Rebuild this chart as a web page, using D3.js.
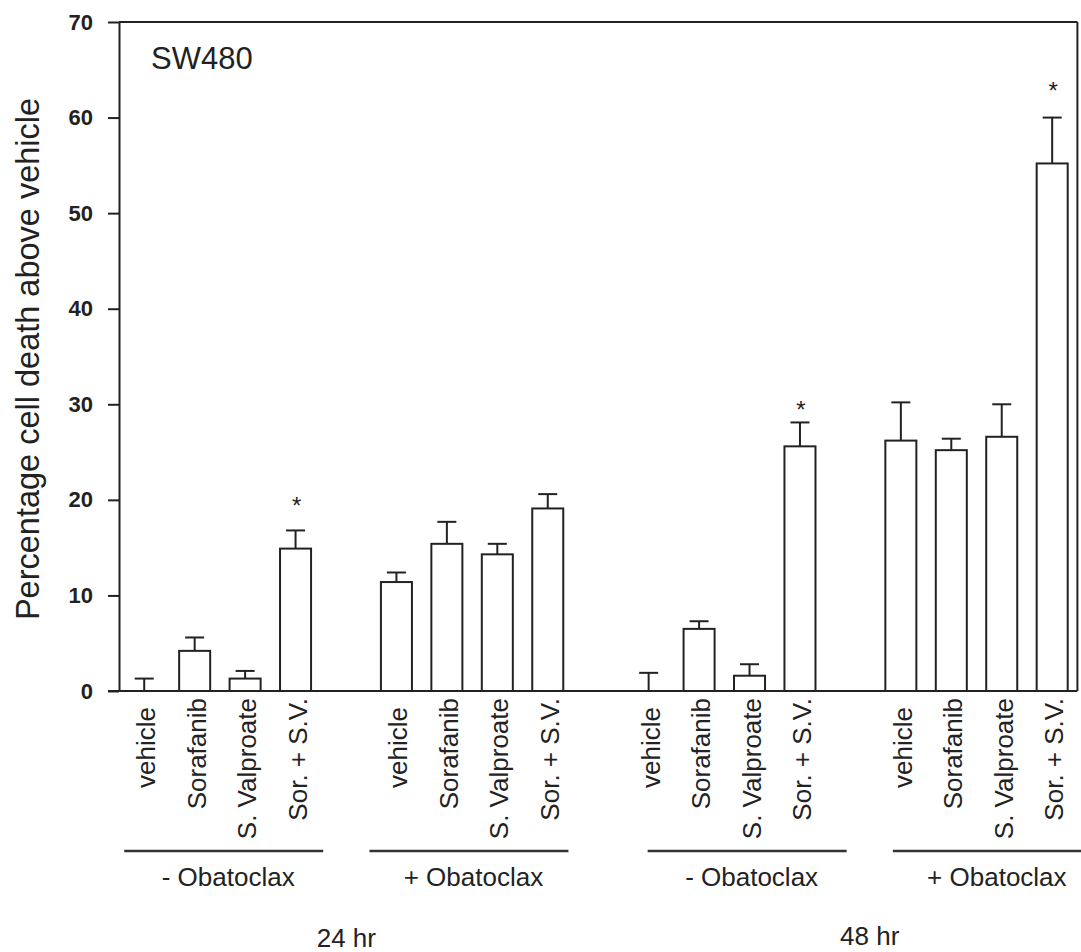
<!DOCTYPE html>
<html>
<head>
<meta charset="utf-8">
<script src="https://cdn.jsdelivr.net/npm/d3@7/dist/d3.min.js"></script>
<style>
  html, body { margin: 0; padding: 0; background: #fff; }
  svg { display: block; }
  text { font-family: "Liberation Sans", Arial, sans-serif; fill: #222; }
</style>
</head>
<body>
<svg id="chart" width="1081" height="952"></svg>
<script>
// ---- data -------------------------------------------------------------
const cellLine = "SW480";
const timepoints = ["24 hr", "48 hr"];
const obatoclaxArms = ["- Obatoclax", "+ Obatoclax"];
const treatments = ["vehicle", "Sorafanib", "S. Valproate", "Sor. + S.V."];

// mean % cell death above vehicle, one array per time point / Obatoclax arm
const mean24hNoObx = [0, 4.2, 1.3, 14.9];
const mean24hObx   = [11.4, 15.4, 14.3, 19.1];
const mean48hNoObx = [0, 6.5, 1.6, 25.6];
const mean48hObx   = [26.2, 25.2, 26.6, 55.2];

// upper error (SEM)
const err24hNoObx = [1.3, 1.4, 0.8, 1.9];
const err24hObx   = [1.0, 2.3, 1.1, 1.5];
const err48hNoObx = [1.9, 0.8, 1.2, 2.5];
const err48hObx   = [4.0, 1.2, 3.4, 4.8];

// significance asterisks: [group index, treatment index, height in % units]
const asterisks = [[0, 3, 20.0], [2, 3, 30.0], [3, 3, 63.4]];

const yTicks = [0, 10, 20, 30, 40, 50, 60, 70];
const yLabel = "Percentage cell death above vehicle";

// ---- assemble groups (time point x Obatoclax arm) ----------------------
const groupMeans = [mean24hNoObx, mean24hObx, mean48hNoObx, mean48hObx];
const groupErrs  = [err24hNoObx, err24hObx, err48hNoObx, err48hObx];
const groups = groupMeans.map((m, g) => ({
  time: Math.floor(g / 2),
  arm: obatoclaxArms[g % 2],
  bars: treatments.map((t, i) => ({ g, i, label: t, mean: m[i], err: groupErrs[g][i], slot: g * 5 + i }))
}));
const bars = groups.flatMap(d => d.bars);
const nSlots = groups.length * 5 - 1;

// ---- layout -----------------------------------------------------------
const svg = d3.select("#chart");
const plotLeft = 119, plotRight = 1077.4, plotTop = 22, plotBottom = 691;
const ink = "#222";

const x = d3.scaleBand()
  .domain(d3.range(nSlots))
  .range([plotLeft, plotRight])
  .paddingInner(0.385)
  .paddingOuter(0.1925);
const cx = s => x(s) + x.bandwidth() / 2;

const y = d3.scaleLinear().domain([0, 70]).range([plotBottom, plotTop]);

// ---- frame & axis -----------------------------------------------------
const yAxis = d3.axisLeft(y)
  .tickValues(yTicks)
  .tickSize(11)
  .tickSizeOuter(0)
  .tickPadding(15);

const gy = svg.append("g")
  .attr("transform", `translate(${plotLeft},0)`)
  .call(yAxis);
gy.selectAll("path, line").attr("stroke", ink).attr("stroke-width", 2);
gy.selectAll("text")
  .attr("font-size", 22)
  .attr("font-weight", "bold")
  .attr("font-family", "'Liberation Sans', Arial, sans-serif")
  .attr("fill", ink);

// top, right and baseline rules
svg.append("line").attr("x1", plotLeft).attr("x2", plotRight).attr("y1", y(70)).attr("y2", y(70))
  .attr("stroke", ink).attr("stroke-width", 2);
svg.append("line").attr("x1", plotRight).attr("x2", plotRight).attr("y1", y(70)).attr("y2", y(0))
  .attr("stroke", ink).attr("stroke-width", 2);
svg.append("line").attr("x1", plotLeft - 11).attr("x2", plotRight).attr("y1", y(0)).attr("y2", y(0))
  .attr("stroke", ink).attr("stroke-width", 2);

// ---- bars -------------------------------------------------------------
svg.append("g").selectAll("rect")
  .data(bars.filter(d => d.mean > 0))
  .join("rect")
  .attr("x", d => x(d.slot))
  .attr("width", x.bandwidth())
  .attr("y", d => y(d.mean))
  .attr("height", d => y(0) - y(d.mean))
  .attr("fill", "#fff")
  .attr("stroke", ink)
  .attr("stroke-width", 2);

// error bars
const capHalf = 9.5;
const eb = svg.append("g").attr("stroke", ink).attr("stroke-width", 2);
eb.selectAll("line.stem")
  .data(bars)
  .join("line")
  .attr("class", "stem")
  .attr("x1", d => cx(d.slot)).attr("x2", d => cx(d.slot))
  .attr("y1", d => y(d.mean)).attr("y2", d => y(d.mean + d.err));
eb.selectAll("line.cap")
  .data(bars)
  .join("line")
  .attr("class", "cap")
  .attr("x1", d => cx(d.slot) - capHalf).attr("x2", d => cx(d.slot) + capHalf)
  .attr("y1", d => y(d.mean + d.err)).attr("y2", d => y(d.mean + d.err));

// asterisks
svg.append("g").selectAll("text")
  .data(asterisks)
  .join("text")
  .attr("x", d => cx(d[0] * 5 + d[1]) + 1)
  .attr("y", d => y(d[2]) + 14)
  .attr("text-anchor", "middle")
  .attr("font-size", 24)
  .text("*");

// ---- category labels (rotated) -----------------------------------------
svg.append("g").selectAll("text")
  .data(bars)
  .join("text")
  .attr("transform", d => `translate(${cx(d.slot) + 11},${d.i === 0 ? 707 : 698}) rotate(-90)`)
  .attr("text-anchor", "end")
  .attr("font-size", 26)
  .text(d => d.label);

// ---- group brackets & labels -------------------------------------------
const bracketShift = [-20, -27, -1, -8];
const bracketLen = 199;
const bracketY = 851;
const bracketStart = g => cx(g * 5) + bracketShift[g];

svg.append("g").selectAll("line")
  .data(groups)
  .join("line")
  .attr("x1", (d, g) => bracketStart(g))
  .attr("x2", (d, g) => bracketStart(g) + bracketLen)
  .attr("y1", bracketY).attr("y2", bracketY)
  .attr("stroke", "#333")
  .attr("stroke-width", 2.6);

svg.append("g").selectAll("text")
  .data(groups)
  .join("text")
  .attr("x", (d, g) => bracketStart(g) + bracketLen / 2 + 4.5)
  .attr("y", 886)
  .attr("text-anchor", "middle")
  .attr("font-size", 26)
  .text(d => d.arm);

// time point labels, centred under each pair of brackets
svg.append("g").selectAll("text")
  .data(timepoints)
  .join("text")
  .attr("x", (d, t) => (bracketStart(t * 2) + bracketStart(t * 2 + 1) + bracketLen) / 2)
  .attr("y", (d, t) => 947 - t * 2)
  .attr("text-anchor", "middle")
  .attr("font-size", 26)
  .text(d => d);

// ---- titles ------------------------------------------------------------
svg.append("text")
  .attr("x", 151)
  .attr("y", 69)
  .attr("font-size", 31)
  .text(cellLine);

svg.append("text")
  .attr("transform", "translate(39,359) rotate(-90)")
  .attr("text-anchor", "middle")
  .attr("font-size", 32.5)
  .text(yLabel);
</script>
</body>
</html>
